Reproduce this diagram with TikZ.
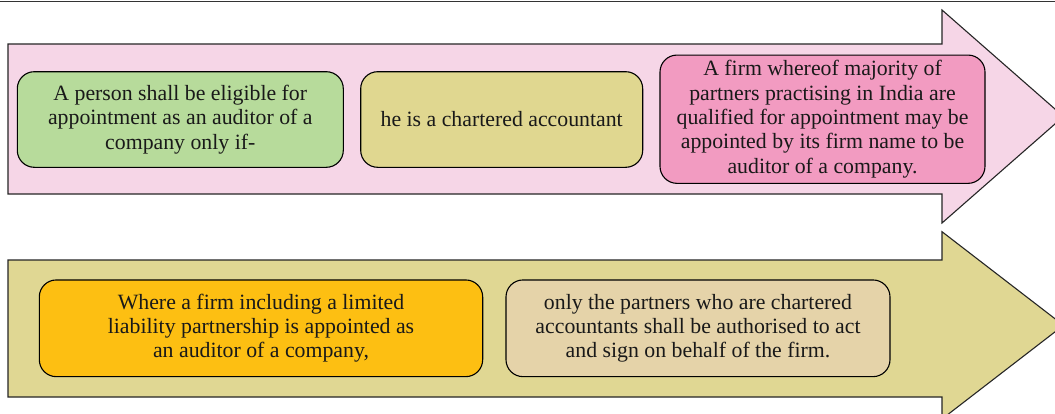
\documentclass[tikz,border=0pt]{standalone}
\usepackage{fontspec}
\setmainfont{Liberation Serif}
\definecolor{arrowpink}{HTML}{F6D6E7}
\definecolor{arrowolive}{HTML}{E0D793}
\definecolor{boxgreen}{HTML}{B7DB9B}
\definecolor{boxtan}{HTML}{E0D790}
\definecolor{boxpink}{HTML}{F29BC1}
\definecolor{boxorange}{HTML}{FDBF12}
\definecolor{boxbeige}{HTML}{E5D3A9}
\tikzset{
  bigarrow/.style={draw=black!85, line width=1.1pt, line join=miter},
  infobox/.style={draw=black, line width=1.1pt, rounded corners=17pt,
    align=center, inner sep=0pt, font=\fontsize{21.8}{24.3}\selectfont,
    text=black!90},
}
\begin{document}
\begin{tikzpicture}[x=1pt,y=-1pt]
\useasboundingbox (0,0) rectangle (1055,413);
\fill[white] (0,0) rectangle (1055,413);
\draw[black!80, line width=1.4pt] (0,1.7) -- (1055,1.7);
\begin{scope}
  \clip (0,0) rectangle (1055,413);
  % upper arrow
  \draw[bigarrow, fill=arrowpink]
    (8,44) -- (942,44) -- (942,10) -- (1063.5,116.5) -- (942,223)
    -- (942,194) -- (8,194) -- cycle;
  % lower arrow
  \draw[bigarrow, fill=arrowolive]
    (8,260) -- (942,260) -- (942,231.7) -- (1063.5,325.3) -- (942,419)
    -- (942,397) -- (8,397) -- cycle;
\end{scope}
% boxes on the upper arrow
\node[infobox, fill=boxgreen, minimum width=326pt, minimum height=95.6pt]
  (eligible) at (180.3,119.5)
  {A person shall be eligible for\\appointment as an auditor of a\\company only if-};
\node[infobox, fill=boxtan, minimum width=282pt, minimum height=95.6pt]
  (ca) at (501.7,119.5)
  {he is a chartered accountant};
\node[infobox, fill=boxpink, minimum width=325pt, minimum height=128.3pt]
  (firm) at (822.5,119.2)
  {A firm whereof majority of\\partners practising in India are\\qualified for appointment may be\\appointed by its firm name to be\\auditor of a company.};
% boxes on the lower arrow
\node[infobox, fill=boxorange, minimum width=443.4pt, minimum height=96.7pt]
  (llp) at (261,328.3)
  {Where a firm including a limited\\liability partnership is appointed as\\an auditor of a company,};
\node[infobox, fill=boxbeige, minimum width=384pt, minimum height=96.7pt]
  (partners) at (698,328.3)
  {only the partners who are chartered\\accountants shall be authorised to act\\and sign on behalf of the firm.};
\end{tikzpicture}
\end{document}
